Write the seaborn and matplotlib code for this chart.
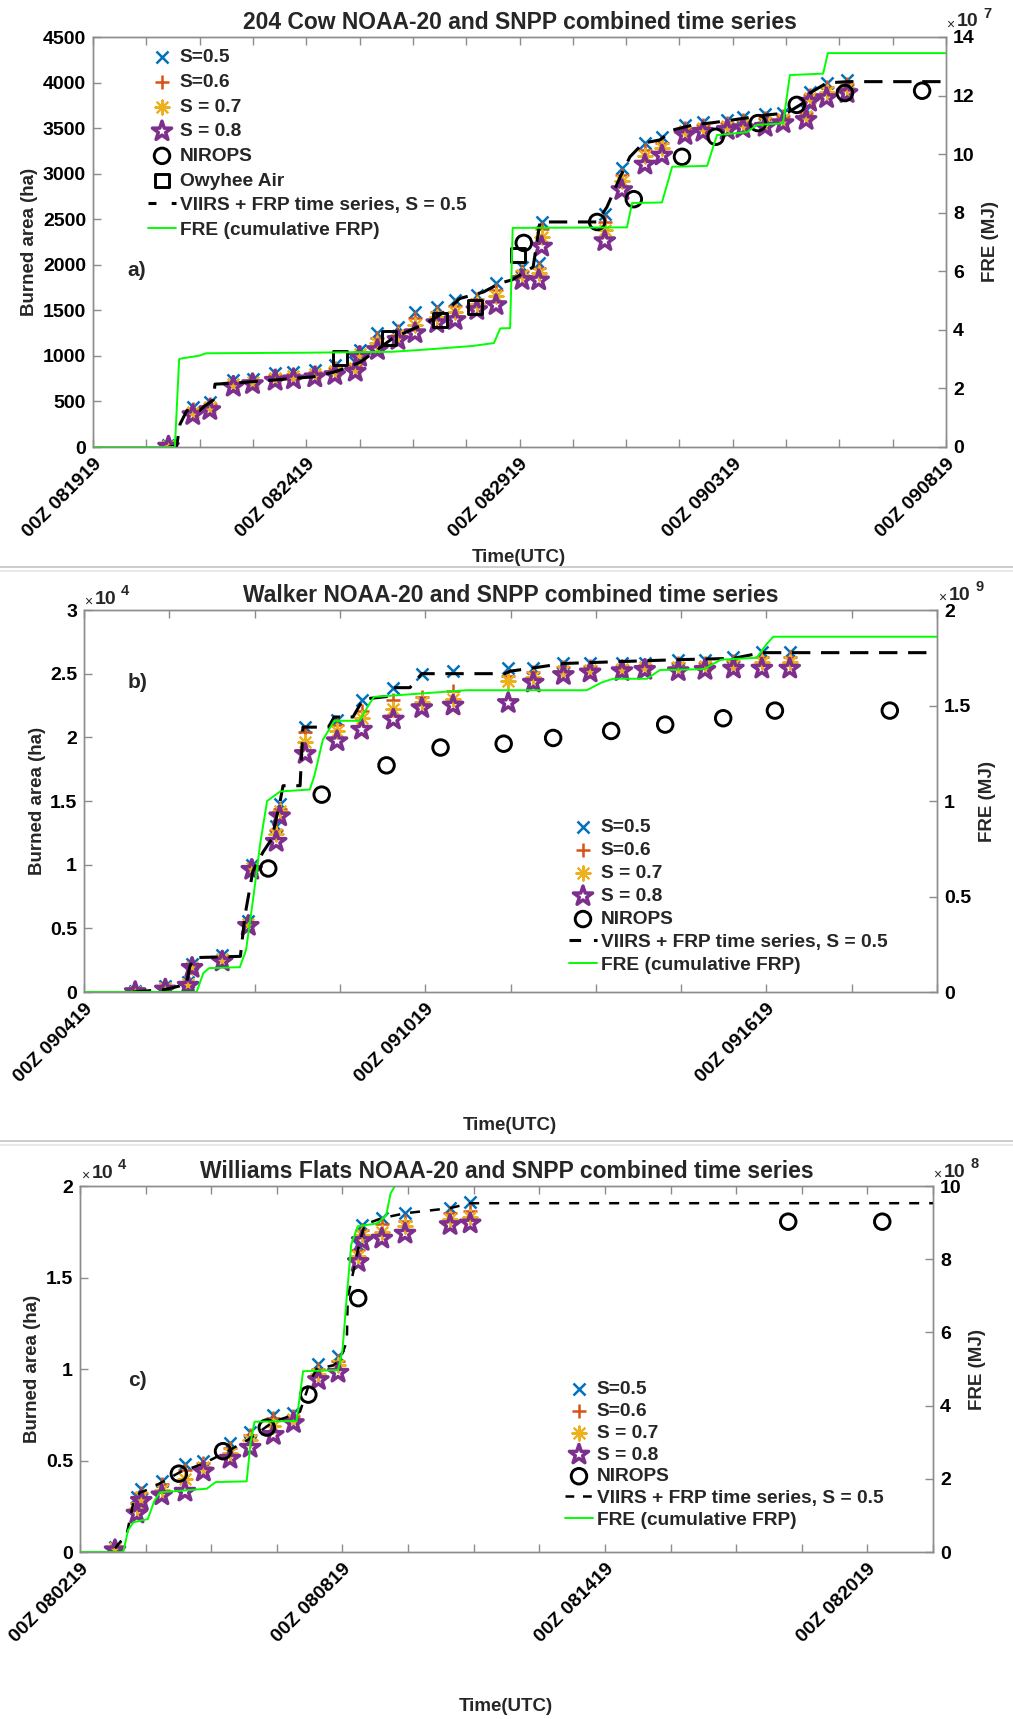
import numpy as np
import pandas as pd
import matplotlib
matplotlib.use("Agg")
import matplotlib.pyplot as plt
import seaborn as sns
from matplotlib.lines import Line2D

# ======================= DATA =======================
# ---- panel a: 204 Cow (x = days after 00Z 08/19/19; area in ha; FRE in 1e7 MJ)
a_time = [1.77, 2.34, 2.74, 3.29, 3.74, 4.27, 4.70, 5.20, 5.67, 6.15, 6.25, 6.67, 7.15, 7.55,
          8.06, 8.49, 9.00, 9.45, 10.06, 10.45, 10.52, 12.00, 12.40, 12.94, 13.34, 13.88,
          14.30, 14.87, 15.24, 15.76, 16.18, 16.72, 16.80, 17.20, 17.68]
a_s05 = [20, 442, 497, 735, 743, 809, 827, 845, 900, 930, 1065, 1250, 1320, 1485, 1540, 1613,
         1668, 1797, 1976, 2020, 2470, 2560, 3060, 3335, 3400, 3535, 3570, 3590, 3620, 3655,
         3665, 3700, 3900, 3995, 4030]
a_s06 = [15, 415, 470, 713, 727, 785, 802, 821, 867, 899, 1042, 1195, 1277, 1415, 1486, 1547,
         1619, 1725, 1933, 1963, 2389, 2470, 2988, 3265, 3340, 3502, 3537, 3557, 3584, 3613,
         3632, 3667, 3867, 3946, 3987]
a_s07 = [10, 388, 442, 691, 712, 760, 777, 797, 834, 868, 1020, 1139, 1233, 1344, 1432, 1482,
         1570, 1654, 1890, 1906, 2308, 2380, 2916, 3194, 3280, 3469, 3504, 3524, 3548, 3571,
         3599, 3634, 3834, 3896, 3943]
a_s08 = [5, 351, 406, 662, 691, 728, 743, 765, 790, 827, 990, 1065, 1175, 1250, 1360, 1394,
         1504, 1558, 1833, 1830, 2200, 2260, 2820, 3100, 3200, 3425, 3460, 3480, 3500, 3515,
         3555, 3590, 3790, 3830, 3885]
a_nirops_t = [10.10, 11.82, 12.68, 13.81, 14.60, 15.59, 16.50, 17.63, 19.44]
a_nirops_v = [2240, 2470, 2720, 3185, 3405, 3555, 3755, 3885, 3910]
a_owy_t = [5.79, 6.94, 8.14, 8.96, 9.97]
a_owy_v = [975, 1195, 1394, 1540, 2107]
a_viirs_t = [1.77, 1.96, 2.04, 2.20, 2.50, 2.62, 2.82, 2.86, 3.29, 5.16, 5.63, 5.95, 6.26, 6.65,
             7.03, 7.43, 7.82, 8.30, 8.60, 9.15, 9.55, 9.82, 10.32, 10.48, 10.56, 11.82, 12.05,
             12.36, 12.59, 12.90, 13.29, 13.60, 14.07, 14.54, 15.00, 15.80, 16.27, 16.65, 16.81,
             17.20, 17.68, 20.0]
a_viirs_v = [0, 10, 250, 400, 400, 450, 515, 690, 700, 770, 820, 870, 930, 1060, 1195, 1280,
             1360, 1500, 1630, 1700, 1800, 1833, 1976, 2470, 2470, 2470, 2634, 2963, 3185, 3335,
             3370, 3480, 3535, 3560, 3590, 3645, 3665, 3775, 3885, 3995, 4010, 4010]
a_fre_t = [0, 1.92, 2.02, 2.10, 2.50, 2.65, 5.0, 7.0, 7.83, 8.9, 9.40, 9.55, 9.78, 9.84, 12.52,
           12.64, 13.34, 13.58, 14.40, 14.63, 15.33, 15.57, 16.18, 16.34, 17.12, 17.23, 20.0]
a_fre_v = [0, 0, 3.0, 3.03, 3.12, 3.2, 3.22, 3.25, 3.33, 3.45, 3.55, 4.05, 4.06, 7.48, 7.5,
           8.33, 8.35, 9.57, 9.6, 10.65, 10.75, 11.0, 11.05, 12.7, 12.75, 13.45, 13.45]

# ---- panel b: Walker (x = days after 00Z 09/04/19; area in 1e4 ha; FRE in 1e9 MJ)
b_time = [0.90, 1.43, 1.83, 1.90, 2.43, 2.89, 2.95, 3.38, 3.44, 3.89, 4.45, 4.88, 5.44, 5.94,
          6.49, 7.46, 7.90, 8.43, 8.90, 9.46, 9.86, 10.45, 10.92, 11.42, 11.92, 12.41]
b_s05 = [0.01, 0.05, 0.08, 0.22, 0.29, 0.56, 1.00, 1.30, 1.48, 2.08, 2.14, 2.29, 2.39, 2.50,
         2.52, 2.545, 2.545, 2.58, 2.58, 2.58, 2.58, 2.61, 2.61, 2.63, 2.67, 2.67]
b_s06 = [0.01, 0.04, 0.07, 0.21, 0.275, 0.55, 0.99, 1.27, 1.44, 2.04, 2.10, 2.21, 2.29, 2.32,
         2.36, 2.48, 2.51, 2.55, 2.56, 2.56, 2.565, 2.58, 2.585, 2.60, 2.63, 2.63]
b_s07 = [0.0, 0.03, 0.06, 0.20, 0.26, 0.535, 0.975, 1.24, 1.42, 1.96, 2.05, 2.15, 2.22, 2.28,
         2.30, 2.44, 2.47, 2.52, 2.53, 2.54, 2.55, 2.55, 2.56, 2.57, 2.59, 2.59]
b_s08 = [0.0, 0.02, 0.05, 0.19, 0.24, 0.52, 0.96, 1.18, 1.38, 1.87, 1.97, 2.06, 2.14, 2.23,
         2.25, 2.27, 2.43, 2.49, 2.51, 2.52, 2.53, 2.52, 2.53, 2.54, 2.54, 2.54]
b_nirops_t = [3.24, 4.18, 5.32, 6.27, 7.38, 8.25, 9.27, 10.22, 11.24, 12.15, 14.17]
b_nirops_v = [0.97, 1.55, 1.78, 1.92, 1.95, 1.995, 2.05, 2.10, 2.15, 2.21, 2.21]
b_viirs_t = [0.86, 1.43, 1.80, 1.86, 1.95, 2.75, 2.83, 2.97, 3.15, 3.30, 3.45, 3.50, 3.80, 3.85,
             4.30, 4.40, 4.73, 4.91, 5.32, 5.44, 5.73, 5.94, 7.40, 7.50, 7.90, 8.43, 10.45,
             11.42, 11.92, 15.0]
b_viirs_v = [0.0, 0.02, 0.06, 0.20, 0.27, 0.28, 0.60, 0.95, 1.10, 1.20, 1.50, 1.62, 1.62, 2.08,
             2.08, 2.16, 2.16, 2.30, 2.32, 2.39, 2.39, 2.50, 2.50, 2.52, 2.545, 2.58, 2.61,
             2.62, 2.665, 2.665]
b_fre_t = [0, 1.98, 2.10, 2.20, 2.74, 2.85, 2.98, 3.10, 3.22, 3.45, 3.97, 4.05, 4.20, 4.40,
           4.85, 5.0, 5.10, 6.73, 8.84, 9.10, 9.30, 9.90, 10.13, 10.90, 11.20, 11.83, 12.0,
           12.12, 15.0]
b_fre_v = [0, 0.0, 0.10, 0.125, 0.13, 0.22, 0.50, 0.78, 1.0, 1.05, 1.06, 1.13, 1.32, 1.42,
           1.42, 1.50, 1.545, 1.58, 1.58, 1.62, 1.64, 1.64, 1.686, 1.69, 1.74, 1.75, 1.82,
           1.86, 1.86]

# ---- panel c: Williams Flats (x = days after 00Z 08/02/19; area in 1e4 ha; FRE in 1e8 MJ)
c_time = [0.80, 1.30, 1.40, 1.87, 2.40, 2.82, 3.43, 3.89, 4.42, 4.88, 5.45, 5.90, 6.36, 6.45,
          6.90, 7.43, 8.46, 8.92]
c_s05 = [0.03, 0.30, 0.345, 0.39, 0.48, 0.50, 0.593, 0.657, 0.75, 0.76, 1.025, 1.07, 1.68,
         1.787, 1.824, 1.851, 1.879, 1.915]
c_s06 = [0.025, 0.27, 0.325, 0.37, 0.45, 0.485, 0.57, 0.64, 0.73, 0.745, 1.00, 1.045, 1.65,
         1.76, 1.79, 1.81, 1.85, 1.865]
c_s07 = [0.02, 0.24, 0.30, 0.34, 0.40, 0.465, 0.54, 0.61, 0.69, 0.725, 0.97, 1.02, 1.62, 1.73,
         1.75, 1.78, 1.82, 1.83]
c_s08 = [0.01, 0.21, 0.28, 0.31, 0.33, 0.44, 0.51, 0.57, 0.64, 0.705, 0.94, 0.98, 1.585, 1.70,
         1.713, 1.74, 1.787, 1.796]
c_nirops_t = [2.26, 3.27, 4.27, 5.22, 6.36, 16.19, 18.34]
c_nirops_v = [0.428, 0.551, 0.68, 0.86, 1.387, 1.805, 1.805]
c_viirs_t = [0.80, 1.07, 1.22, 1.37, 1.60, 2.29, 2.82, 3.35, 3.89, 4.42, 4.88, 5.03, 5.26, 5.41,
             5.79, 5.94, 6.10, 6.12, 6.40, 6.51, 6.90, 7.43, 8.46, 8.92, 19.5]
c_viirs_v = [0.02, 0.10, 0.27, 0.325, 0.345, 0.437, 0.483, 0.547, 0.62, 0.712, 0.749, 0.767,
             0.933, 1.0, 1.02, 1.05, 1.15, 1.39, 1.70, 1.79, 1.824, 1.851, 1.879, 1.906, 1.906]
c_fre_t = [0, 0.99, 1.10, 1.22, 1.55, 1.70, 1.83, 2.90, 3.10, 3.81, 3.90, 3.99, 4.95, 5.10,
           5.90, 6.00, 6.10, 6.20, 6.35, 6.80, 7.00, 7.10, 7.20, 19.5]
c_fre_v = [0, 0.0, 0.6, 0.81, 0.90, 1.40, 1.63, 1.73, 1.91, 1.93, 3.0, 3.56, 3.58, 4.94, 4.97,
           5.5, 7.0, 8.4, 8.9, 8.98, 9.2, 9.8, 10.0, 10.0]

titles = ["204 Cow NOAA-20 and SNPP combined time series",
          "Walker NOAA-20 and SNPP combined time series",
          "Williams Flats NOAA-20 and SNPP combined time series"]
a_xlabels = ["00Z 081919", "00Z 082419", "00Z 082919", "00Z 090319", "00Z 090819"]
b_xlabels = ["00Z 090419", "00Z 091019", "00Z 091619"]
c_xlabels = ["00Z 080219", "00Z 080819", "00Z 081419", "00Z 082019"]
lab_s = ["S=0.5", "S=0.6", "S = 0.7", "S = 0.8"]
lab_nirops = "NIROPS"
lab_owy = "Owyhee Air"
lab_viirs = "VIIRS + FRP time series, S = 0.5"
lab_fre = "FRE (cumulative FRP)"

# ======================= STYLE =======================
sns.set_theme(style="white")
plt.rcParams["font.family"] = ["Liberation Sans", "DejaVu Sans"]
plt.rcParams["font.weight"] = "bold"
plt.rcParams["axes.labelweight"] = "bold"

W, H = 1013, 1719
fig = plt.figure(figsize=(W / 100, H / 100), dpi=100)
fig.patch.set_facecolor("white")

C_BLUE, C_ORANGE, C_YELLOW, C_PURPLE = "#0072BD", "#D95319", "#EDB120", "#7E2F8E"
GREEN = "#00FF00"
GRAY = "#8c8c8c"
TICKFS = 14
LEGFS = 13.8
LABFS = 13.5


def fx(x):
    return x / W


def fy(y):
    return 1 - y / H


def make_axes(box):
    l, r, t, b = box
    return fig.add_axes([fx(l), fy(b), (r - l) / W, (b - t) / H])


def ftext(x, y, s, **kw):
    fig.text(fx(x), fy(y), s, **kw)


def draw_panel(box, t, s05, s06, s07, s08, nt, nv, vt, vv, ft, fv, extra=None,
               dash=(6, 3.5), dlw=2.2):
    ax = make_axes(box)
    handles = []
    sns.scatterplot(x=t, y=s05, ax=ax, marker="x", color=C_BLUE, s=75, linewidth=1.8, zorder=3)
    handles.append(ax.collections[-1])
    sns.scatterplot(x=t, y=s06, ax=ax, marker="+", color=C_ORANGE, s=105, linewidth=1.8, zorder=3)
    handles.append(ax.collections[-1])
    sns.scatterplot(x=t, y=s07, ax=ax, marker=(8, 2, 0), color=C_YELLOW, s=105, linewidth=1.5,
                    zorder=3)
    handles.append(ax.collections[-1])
    sns.scatterplot(x=t, y=s08, ax=ax, marker="*", color=C_PURPLE, facecolor="none",
                    edgecolor=C_PURPLE, s=210, linewidth=2.5, zorder=3)
    handles.append(ax.collections[-1])
    sns.scatterplot(x=nt, y=nv, ax=ax, marker="o", color="black", facecolor="none",
                    edgecolor="black", s=125, linewidth=2.1, zorder=4)
    handles.append(ax.collections[-1])
    if extra is not None:
        sns.scatterplot(x=extra[0], y=extra[1], ax=ax, marker="s", color="black",
                        facecolor="none", edgecolor="black", s=100, linewidth=2.1, zorder=4)
        handles.append(ax.collections[-1])
    sns.lineplot(x=vt, y=vv, ax=ax, color="black", linewidth=dlw, estimator=None, sort=False,
                 zorder=5)
    ln = ax.lines[-1]
    ln.set_dashes(dash)
    handles.append(ln)
    ax2 = ax.twinx()
    sns.lineplot(x=ft, y=fv, ax=ax2, color=GREEN, linewidth=1.4, estimator=None, sort=False)
    handles.append(ax2.lines[-1])
    ax.set_xlabel("")
    ax.set_ylabel("")
    ax2.set_ylabel("")
    return ax, ax2, handles


def style(ax, ax2, xmax, xstep, xlabs, yl, yt, ytl, y2l, y2t, y2tl):
    ticks = np.arange(0, xmax + 1e-6, xstep)
    ax.set_xlim(0, xmax)
    ax.set_xticks(ticks)
    labs = ["" for _ in ticks]
    for i, s in enumerate(xlabs):
        labs[4 * i] = s
    ax.set_xticklabels(labs, rotation=45, ha="right", va="top", rotation_mode="anchor",
                       fontsize=TICKFS, fontweight="bold")
    ax.set_ylim(*yl)
    ax.set_yticks(yt)
    ax.set_yticklabels(ytl, fontsize=TICKFS, fontweight="bold")
    ax2.set_ylim(*y2l)
    ax2.set_yticks(y2t)
    ax2.set_yticklabels(y2tl, fontsize=TICKFS, fontweight="bold")
    ax.tick_params(axis="x", which="both", direction="in", length=6, width=1, color=GRAY,
                   top=True, bottom=True, pad=6, labelcolor="black")
    ax.tick_params(axis="y", direction="in", length=6, width=1, color=GRAY, left=True,
                   right=False, pad=5, labelcolor="black")
    ax2.tick_params(axis="y", direction="in", length=6, width=1, color=GRAY, right=True,
                    left=False, pad=5, labelcolor="black")
    for a in (ax, ax2):
        for sp in a.spines.values():
            sp.set_color(GRAY)
            sp.set_linewidth(1.0)
        a.grid(False)


def legend(ax2, handles, labels, x_left, y_top, spacing, legdash):
    leg = ax2.legend(handles, labels, loc="upper left",
                     bbox_to_anchor=(fx(x_left), fy(y_top)), bbox_transform=fig.transFigure,
                     frameon=False, fontsize=LEGFS, handlelength=1.46, handletextpad=0.2,
                     borderpad=0, borderaxespad=0, labelspacing=spacing, markerscale=1.0,
                     scatterpoints=1)
    for txt in leg.get_texts():
        txt.set_fontweight("bold")
    leg.get_lines()[0].set_dashes(legdash)
    return leg


def multiplier(x, y, exp):
    ftext(x, y + 1, "\u00d7", fontsize=10, fontweight="normal", ha="center", va="center")
    ftext(x + 7, y - 2, "10", fontsize=14, fontweight="bold", ha="left", va="center")
    ftext(x + 33, y - 10, exp, fontsize=10.5, fontweight="bold", ha="left", va="center")


# ---------------- panel a ----------------
A = (93, 946, 37, 447)
ax, ax2, h = draw_panel(A, a_time, a_s05, a_s06, a_s07, a_s08, a_nirops_t, a_nirops_v,
                        a_viirs_t, a_viirs_v, a_fre_t, a_fre_v, extra=(a_owy_t, a_owy_v))
style(ax, ax2, 20, 1.25, a_xlabels, (0, 4500), np.arange(0, 4501, 500),
      [str(v) for v in range(0, 4501, 500)], (0, 14), np.arange(0, 15, 2),
      [str(v) for v in range(0, 15, 2)])
legend(ax2, h, lab_s + [lab_nirops, lab_owy, lab_viirs, lab_fre], 148, 49, 0.376, (2.6, 5))
ax.set_title(titles[0], fontsize=16.5, fontweight="bold", pad=6)
ftext(137, 270, "a)", fontsize=15, fontweight="bold", ha="center", va="center")
ftext(29, 242, "Burned area (ha)", fontsize=LABFS, fontweight="bold", rotation=90,
      ha="center", va="center")
ftext(990, 242, "FRE (MJ)", fontsize=LABFS, fontweight="bold", rotation=90, ha="center",
      va="center")
ftext(519, 557, "Time(UTC)", fontsize=LABFS, fontweight="bold", ha="center", va="center")
multiplier(950, 24, "7")

# ---------------- panel b ----------------
B = (84, 937, 610, 992)
ax, ax2, h = draw_panel(B, b_time, b_s05, b_s06, b_s07, b_s08, b_nirops_t, b_nirops_v,
                        b_viirs_t, b_viirs_v, b_fre_t, b_fre_v)
style(ax, ax2, 15, 1.5, b_xlabels, (0, 3), np.arange(0, 3.01, 0.5),
      ["0", "0.5", "1", "1.5", "2", "2.5", "3"], (0, 2), np.arange(0, 2.01, 0.5),
      ["0", "0.5", "1", "1.5", "2"])
legend(ax2, h, lab_s + [lab_nirops, lab_viirs, lab_fre], 569, 819, 0.287, (3.8, 4.2))
ax.set_title(titles[1], fontsize=16.5, fontweight="bold", pad=6)
ftext(138, 682, "b)", fontsize=15, fontweight="bold", ha="center", va="center")
ftext(38, 801, "Burned area (ha)", fontsize=LABFS, fontweight="bold", rotation=90,
      ha="center", va="center")
ftext(987, 801, "FRE (MJ)", fontsize=LABFS, fontweight="bold", rotation=90, ha="center",
      va="center")
ftext(510, 1126, "Time(UTC)", fontsize=LABFS, fontweight="bold", ha="center", va="center")
multiplier(88, 601, "4")
multiplier(942, 597, "9")

# ---------------- panel c ----------------
C = (80, 933, 1186, 1552)
ax, ax2, h = draw_panel(C, c_time, c_s05, c_s06, c_s07, c_s08, c_nirops_t, c_nirops_v,
                        c_viirs_t, c_viirs_v, c_fre_t, c_fre_v, dash=(4, 4), dlw=1.8)
style(ax, ax2, 19.5, 1.5, c_xlabels, (0, 2), np.arange(0, 2.01, 0.5),
      ["0", "0.5", "1", "1.5", "2"], (0, 10), np.arange(0, 10.1, 2),
      ["0", "2", "4", "6", "8", "10"])
legend(ax2, h, lab_s + [lab_nirops, lab_viirs, lab_fre], 565, 1381, 0.224, (3.5, 3.5))
ax.set_title(titles[2], fontsize=16.5, fontweight="bold", pad=6)
ftext(137, 1380, "c)", fontsize=15, fontweight="bold", ha="center", va="center")
ftext(33, 1369, "Burned area (ha)", fontsize=LABFS, fontweight="bold", rotation=90,
      ha="center", va="center")
ftext(977, 1369, "FRE (MJ)", fontsize=LABFS, fontweight="bold", rotation=90, ha="center",
      va="center")
ftext(506, 1706, "Time(UTC)", fontsize=LABFS, fontweight="bold", ha="center", va="center")
multiplier(85, 1175, "4")
multiplier(937, 1174, "8")

# separator lines between the stacked panels
for yy, col in [(567, "#c4c4c4"), (571, "#e4e4e4"), (1141, "#c4c4c4"), (1145, "#e4e4e4")]:
    fig.add_artist(Line2D([0, 1], [fy(yy), fy(yy)], transform=fig.transFigure, color=col,
                          linewidth=1.2))

fig.savefig("out.png", dpi=100, facecolor="white")
